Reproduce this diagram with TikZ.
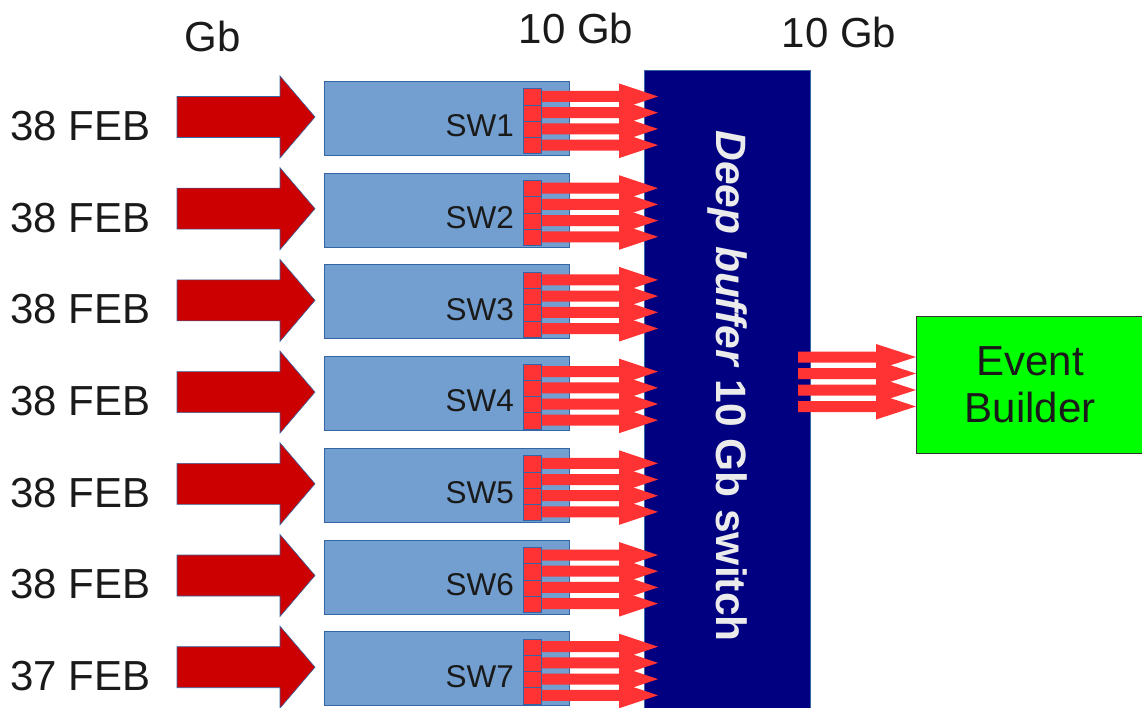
\documentclass[tikz,border=0pt]{standalone}
\usepackage{fontspec}
\setmainfont{Liberation Sans}
\definecolor{bigred}{HTML}{CC0000}
\definecolor{smallred}{HTML}{FF3333}
\definecolor{swblue}{HTML}{729FCF}
\definecolor{edgeblue}{HTML}{3465A4}
\definecolor{navy}{HTML}{000080}
\definecolor{ebgreen}{HTML}{00FF00}
\definecolor{txt}{HTML}{1A1A1A}
\begin{document}
\begin{tikzpicture}[x=1pt,y=-1pt,
  lbl/.style={font=\fontsize{42}{50}\selectfont, text=txt, inner sep=0pt},
  swbox/.style={draw=edgeblue, fill=swblue, line width=0.8pt, minimum width=245pt, minimum height=74pt, inner sep=0pt},
  portbox/.style={draw=edgeblue, fill=smallred, line width=0.8pt, minimum width=18pt, minimum height=16.25pt, inner sep=0pt},
  bigarrow/.style={fill=bigred, draw=edgeblue, line width=0.6pt},
  smallarrow/.style={fill=smallred},
]
\useasboundingbox (0,0) rectangle (1142,708);
% Deep buffer switch
\node[draw=edgeblue, fill=navy, line width=0.8pt, minimum width=166pt, minimum height=640pt, inner sep=0pt, anchor=north west] (sw10) at (644,70) {};
\node[rotate=-90, text=white!92!black, font=\fontsize{42.5}{50}\selectfont\bfseries, inner sep=0pt] (dbtext) at (727,386) {\textit{Deep buffer} 10 Gb switch};
% header labels
\node[lbl] (gb) at (213,36) {Gb};
\node[lbl] (gb10a) at (576,28) {10 Gb};
\node[lbl] (gb10b) at (839,32) {10 Gb};
% rows
\foreach \i/\n/\lab in {0/1/38 FEB,1/2/38 FEB,2/3/38 FEB,3/4/38 FEB,4/5/38 FEB,5/6/38 FEB,6/7/37 FEB}{
  \pgfmathsetmacro{\top}{81+91.7*\i}
  \pgfmathsetmacro{\cy}{\top+36}
  \node[lbl, anchor=west] (feb\n) at (10,\cy+9) {\lab};
  \draw[bigarrow] (177,\cy-20.5) -- (280,\cy-20.5) -- (280,\cy-41) -- (315,\cy) -- (280,\cy+41) -- (280,\cy+20.5) -- (177,\cy+20.5) -- cycle;
  \node[swbox, anchor=north west] (sw\n) at (324,\top) {};
  \node[font=\fontsize{31.5}{36}\selectfont, text=txt, anchor=east, inner sep=0pt] (swl\n) at (514,\top+45) {SW\n};
  \foreach \k in {0,1,2,3}{
    \pgfmathsetmacro{\ay}{\top+15.5+16.2*\k}
    \fill[smallarrow] (530,\ay-5.5) -- (619,\ay-5.5) -- (619,\ay-13) -- (658,\ay) -- (619,\ay+13) -- (619,\ay+5.5) -- (530,\ay+5.5) -- cycle;
  }
  \foreach \k in {0,1,2,3}{
    \node[portbox, anchor=north west] (p\n\k) at (523,\top+7.5+16.25*\k) {};
  }
}
% Event builder
\node[draw=black!80, fill=ebgreen, line width=0.8pt, minimum width=240pt, minimum height=137pt, inner sep=0pt, anchor=north west] (eb) at (916,316) {};
\node[font=\fontsize{42}{47}\selectfont, text=txt, align=center, inner sep=0pt] (ebtext) at (1030,385) {Event\\Builder};
\foreach \ay in {357,373.5,390,406.5}{
  \fill[smallarrow] (798,\ay-5.5) -- (876,\ay-5.5) -- (876,\ay-13) -- (916,\ay) -- (876,\ay+13) -- (876,\ay+5.5) -- (798,\ay+5.5) -- cycle;
}
\end{tikzpicture}
\end{document}
